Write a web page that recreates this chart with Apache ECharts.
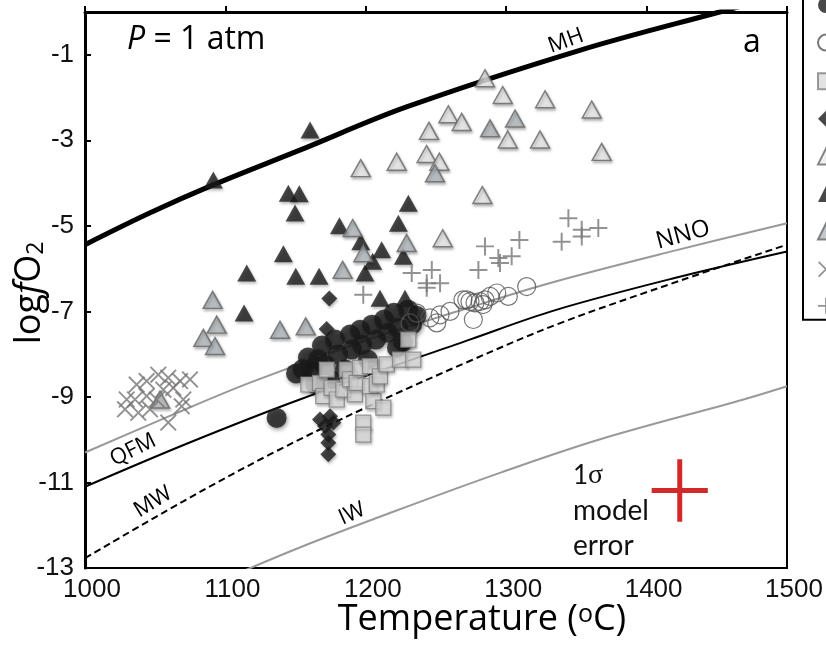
<!DOCTYPE html>
<html><head><meta charset="utf-8">
<script src="https://cdn.jsdelivr.net/npm/echarts@6/dist/echarts.min.js"></script>
<style>html,body{margin:0;padding:0;background:#fff}#c{width:826px;height:649px}</style>
</head><body><div id="c"></div>
<script>
// ---- buffer curves (T in °C, logfO2) ----
const mhT = [1000,1046,1090,1153,1229,1353,1452,1500];
const mhV = [-5.44,-4.70,-4.06,-3.23,-2.22,-0.89,0,0.42];
const nnoT = [1000,1060,1118,1200,1270,1332,1420,1500];
const nnoV = [-10.30,-9.45,-8.66,-7.68,-6.95,-6.33,-5.58,-4.94];
const qfmT = [1000,1075,1153,1274,1335,1420,1500];
const qfmV = [-11.10,-10.06,-9.06,-7.66,-6.97,-6.22,-5.60];
const mwT = [1000,1070,1132,1200,1274,1338,1424,1500];
const mwV = [-12.77,-11.44,-10.34,-9.25,-8.16,-7.28,-6.28,-5.44];
const iwT = [1100,1153,1220,1296,1367,1469,1500];
const iwV = [-13.25,-12.52,-11.68,-10.77,-9.99,-9.06,-8.75];

// ---- data sets ----
const blackCircleT = [1136.5,1158.8,1161.7,1168.8,1171.0,1174.5,1178.1,1180.2,1185.2,1188.8,1190.2,1195.9,1197.3,1201.6,1204.4,1207.3,1213.0,1215.8,1220.1,1223.0,1226.5,1230.1,1232.9,1222.2,1236.0,1164.0,1155.0,1166.0,1150.3];
const blackCircleV = [-9.49,-8.08,-8.41,-7.80,-8.24,-8.59,-7.66,-8.01,-8.36,-7.54,-7.89,-7.43,-7.78,-8.13,-7.31,-7.66,-7.19,-7.50,-7.03,-7.38,-7.71,-6.96,-7.31,-7.85,-7.10,-8.70,-8.35,-8.12,-8.45];
const openCircleT = [1231.5,1236.3,1245.7,1250.5,1252.9,1260.0,1269.2,1271.9,1274.2,1276.6,1277.8,1281.4,1283.5,1284.9,1288.5,1293.3,1301.5,1314.6];
const openCircleV = [-7.27,-7.04,-7.15,-7.27,-7.08,-7.00,-6.73,-6.73,-6.77,-7.19,-6.80,-6.77,-6.84,-6.73,-6.65,-6.57,-6.65,-6.42];
const squareT = [1159.1,1167.4,1169.7,1172.2,1175.7,1179.3,1184.0,1186.4,1188.8,1192.3,1193.5,1195.9,1198.2,1198.2,1203.0,1203.0,1205.4,1207.8,1210.1,1212.5,1214.9,1224.4,1230.3,1233.8];
const squareV = [-8.71,-8.67,-8.98,-8.36,-8.79,-9.06,-8.83,-8.36,-8.59,-8.94,-8.67,-8.32,-9.60,-9.88,-8.75,-8.28,-9.10,-8.71,-8.52,-9.25,-8.24,-8.13,-7.66,-8.13];
const diamondT = [1174.0,1172.1,1167.4,1174.5,1171.0,1176.9,1173.3,1173.3,1173.3];
const diamondV = [-6.70,-7.41,-9.53,-9.45,-9.68,-9.60,-9.88,-10.07,-10.34];
const openTriT = [1284.9,1297.5,1327.7,1360.9,1258.8,1268.3,1245.0,1301.1,1324.1,1368.0,1222.0,1243.3,1252.4,1283.0,1254.8,1196.4];
const openTriV = [-1.55,-1.94,-2.04,-2.28,-2.39,-2.57,-2.78,-2.98,-2.98,-3.27,-3.50,-3.32,-3.50,-4.28,-5.29,-3.65];
const blackTriT = [1160.3,1091.4,1144.8,1152.6,1149.6,1181.2,1196.4,1211.3,1204.9,1141.3,1115.2,1150.1,1166.7,1199.4,1210.1,1113.3,1227.9,1226.7,1230.3,1223.2];
const blackTriV = [-2.76,-3.93,-4.24,-4.25,-4.70,-5.00,-5.37,-5.56,-5.83,-5.65,-6.10,-6.18,-6.18,-6.10,-6.69,-7.04,-6.69,-5.71,-4.47,-4.94];
const grayTriT = [1090.9,1093.8,1084.3,1092.6,1138.9,1157.2,1183.5,1190.7,1198.2,1229.1,1249.3,1288.5,1306.3,1053.4];
const grayTriV = [-6.73,-7.31,-7.62,-7.81,-7.43,-7.35,-6.03,-5.05,-5.64,-5.40,-3.77,-2.72,-2.49,-9.06];
const crossT = [1028.5,1036.8,1043.9,1052.2,1059.3,1067.7,1074.8,1035.6,1043.9,1055.8,1062.9,1070.0,1038.0,1046.3,1059.3,1068.9,1029.7,1051.1];
const crossV = [-9.29,-8.71,-8.63,-8.48,-8.55,-8.63,-8.59,-9.06,-8.98,-8.83,-8.79,-9.06,-9.37,-9.29,-9.60,-9.22,-9.06,-9.06];
const plusT = [1344.3,1353.8,1365.6,1339.5,1353.8,1309.4,1284.9,1280.2,1294.4,1303.9,1295.6,1232.7,1247.0,1243.4,1252.9,1243.4,1198.2];
const plusV = [-4.82,-5.09,-5.05,-5.37,-5.25,-5.33,-5.48,-6.03,-5.75,-5.71,-5.87,-6.10,-6.03,-6.34,-6.34,-6.45,-6.61];

// model error (1 sigma)
const errT = 1423.6, errV = -11.19, errDT = 20, errDV = 0.73;

const xTicks = [1000,1100,1200,1300,1400,1500];
const yTicks = [-13,-11,-9,-7,-5,-3,-1];
const seriesNames = ['Data 1','Data 2','Data 3','Data 4','Data 5','Data 6','Data 7','Data 8','Data 9'];

const zip = (a,b) => a.map((t,i)=>[t,b[i]]);
const shadow = {shadowColor:'rgba(0,0,0,0.35)', shadowBlur:3, shadowOffsetX:1, shadowOffsetY:2};
const noShadow = {shadowBlur:0, shadowOffsetX:0, shadowOffsetY:0, shadowColor:'rgba(0,0,0,0)'};
const plusPath = 'path://M0,4.45H10V5.55H0Z M4.45,0H5.55V10H4.45Z';
const crossPath = 'path://M0,0.8L0.8,0L10,9.2L9.2,10Z M9.2,0L10,0.8L0.8,10L0,9.2Z';

function bufLine(T,V,color,width,type){
  return {type:'line', data:zip(T,V), symbol:'none', silent:true, clip:true, z:1,
    smooth:0.35,
    lineStyle:{color:color,width:width,type:type||'solid'}};
}
function scat(name,T,V,symbol,size,style){
  return {type:'scatter', name:name, data:zip(T,V), symbol:symbol, symbolSize:size,
    itemStyle:Object.assign({},shadow,style), z:3};
}

const chart = echarts.init(document.getElementById('c'), null, {renderer:'canvas'});
chart.setOption({
  animation:false,
  grid:{left:85, top:12, right:39, bottom:81, show:true, borderColor:'#000', borderWidth:2},
  xAxis:{type:'value', min:1000, max:1500, interval:100,
    axisLine:{show:true, lineStyle:{color:'#000', width:3}},
    axisTick:{inside:true, length:6, lineStyle:{color:'#000', width:2}},
    axisLabel:{margin:9, padding:[0,0,0,14], fontSize:26, fontFamily:'Liberation Sans', color:'#111',
      formatter:v => String(v)},
    splitLine:{show:false}},
  yAxis:{type:'value', min:-13, max:0, interval:1,
    axisLine:{show:true, lineStyle:{color:'#000', width:3}},
    axisTick:{inside:true, length:6, lineStyle:{color:'#000', width:2}, customValues:yTicks},
    axisLabel:{margin:11, customValues:yTicks, fontSize:26, fontFamily:'Liberation Sans', color:'#111',
      formatter:v => (Math.abs(v)%2===1 ? String(v) : '')},
    splitLine:{show:false}},
  legend:{data:seriesNames, orient:'vertical', left:803, top:-10, padding:[7,5,6,14],
    itemGap:20.6, itemWidth:16, itemHeight:16, backgroundColor:'#fff',
    borderColor:'#000', borderWidth:2, borderRadius:0,
    textStyle:{fontSize:14, color:'#000'}},
  series:[
    bufLine(mhT,mhV,'#000',5),
    bufLine(nnoT,nnoV,'#999',2),
    bufLine(qfmT,qfmV,'#000',2),
    bufLine(mwT,mwV,'#000',2,[7,4]),
    bufLine(iwT,iwV,'#999',2),
    scat(seriesNames[0],blackCircleT,blackCircleV,'circle',20,{color:'#1c1c1c', shadowColor:'rgba(0,0,0,0.5)', shadowBlur:4}),
    scat(seriesNames[1],openCircleT,openCircleV,'circle',18,Object.assign({color:'rgba(255,255,255,0)',borderColor:'#555',borderWidth:1.2},noShadow)),
    scat(seriesNames[2],squareT,squareV,'rect',15,{color:'#dcdcdc',borderColor:'#808080',borderWidth:1.2}),
    scat(seriesNames[3],diamondT,diamondV,'diamond',16,{color:'#1a1a1a'}),
    scat(seriesNames[4],openTriT,openTriV,'triangle',[19,17],{color:'#ececec',borderColor:'#666',borderWidth:1.5}),
    scat(seriesNames[5],blackTriT,blackTriV,'triangle',[19,17],{color:'#1a1a1a'}),
    scat(seriesNames[6],grayTriT,grayTriV,'triangle',[19,17],{color:'#b5bbc1',borderColor:'#666',borderWidth:1.5}),
    scat(seriesNames[7],crossT,crossV,crossPath,17,Object.assign({color:'#777'},noShadow)),
    scat(seriesNames[8],plusT,plusV,plusPath,18,Object.assign({color:'#777'},noShadow)),
    {type:'line', silent:true, symbol:'none', z:4, data:[[errT-errDT,errV],[errT+errDT,errV]], lineStyle:{color:'#d2292b',width:5}},
    {type:'line', silent:true, symbol:'none', z:4, data:[[errT,errV+errDV],[errT,errV-errDV]], lineStyle:{color:'#d2292b',width:5}}
  ],
  graphic:[
    {type:'text', x:127, y:40, style:{text:'{i|P} = 1 atm', fill:'#000', textVerticalAlign:'middle',
      font:'32px "Open Sans"', rich:{i:{fontStyle:'italic', fontSize:32, fontFamily:'Open Sans'}}}},
    {type:'text', x:752, y:43, style:{text:'a', fill:'#000', font:'32px "Open Sans"', textAlign:'center', textVerticalAlign:'middle'}},
    {type:'text', x:566, y:41, rotation:0.34, style:{text:'MH', fill:'#000', font:'22px "Open Sans"', textAlign:'center', textVerticalAlign:'middle'}},
    {type:'text', x:683, y:235, rotation:0.26, style:{text:'NNO', fill:'#000', font:'24px "Open Sans"', textAlign:'center', textVerticalAlign:'middle'}},
    {type:'text', x:133, y:450, rotation:0.46, style:{text:'QFM', fill:'#000', font:'22px "Open Sans"', textAlign:'center', textVerticalAlign:'middle'}},
    {type:'text', x:153, y:502, rotation:0.55, style:{text:'MW', fill:'#000', font:'22px "Open Sans"', textAlign:'center', textVerticalAlign:'middle'}},
    {type:'text', x:352, y:514, rotation:0.42, style:{text:'IW', fill:'#000', font:'22px "Open Sans"', textAlign:'center', textVerticalAlign:'middle'}},
    {type:'text', x:573, y:476, style:{text:'1{s|σ}', fill:'#111', font:'26px Lato', textVerticalAlign:'middle',
      rich:{s:{fontFamily:'Liberation Serif', fontSize:28}}}},
    {type:'text', x:573, y:511, style:{text:'model', fill:'#111', font:'28px Lato', textVerticalAlign:'middle'}},
    {type:'text', x:573, y:546, style:{text:'error', fill:'#111', font:'28px Lato', textVerticalAlign:'middle'}},
    {type:'text', x:482, y:620, style:{text:'Temperature ({sup|o}C)', fill:'#000', font:'36px "Open Sans"',
      textAlign:'center', textVerticalAlign:'middle', rich:{sup:{fontSize:25, fontFamily:'Open Sans', verticalAlign:'top', lineHeight:26}}}},
    {type:'text', x:30, y:293, rotation:Math.PI/2, style:{text:'log{i|f}O{sub|2}', fill:'#000', font:'36px "Open Sans"',
      textAlign:'center', textVerticalAlign:'middle',
      rich:{i:{fontStyle:'italic', fontSize:36, fontFamily:'Open Sans'}, sub:{fontSize:23, fontFamily:'Open Sans', verticalAlign:'bottom', lineHeight:22}}}}
  ]
});
</script></body></html>
